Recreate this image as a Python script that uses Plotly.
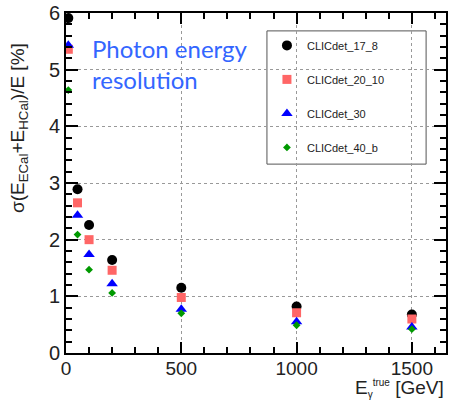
import plotly.graph_objects as go

energies = [10, 50, 100, 200, 500, 1000, 1500]
res_17_8 = [5.91, 2.89, 2.26, 1.64, 1.15, 0.82, 0.68]
res_20_10 = [5.36, 2.65, 2.00, 1.46, 0.98, 0.71, 0.60]
res_30 = [5.43, 2.43, 1.74, 1.22, 0.77, 0.55, 0.46]
res_40_b = [4.64, 2.09, 1.47, 1.06, 0.70, 0.49, 0.42]
err_small = [0.03, 0.03, 0.03, 0.03, 0.03, 0.03, 0.03]

series = [
    ("CLICdet_17_8", res_17_8, "black", "circle", 10),
    ("CLICdet_20_10", res_20_10, "#ff6666", "square", 9),
    ("CLICdet_30", res_30, "#0000ff", "triangle-up", 10),
    ("CLICdet_40_b", res_40_b, "#009900", "diamond", 6),
]

FONT = "Liberation Sans, Arial, Helvetica, sans-serif"

fig = go.Figure()
for i, (name, vals, col, sym, sz) in enumerate(series):
    fig.add_trace(go.Scatter(
        x=energies, y=vals, mode="markers", name=name,
        legendgroup=f"g{i}",
        marker=dict(color=col, symbol=sym, size=sz, line=dict(width=0)),
        error_y=dict(type="data", array=err_small, color=col, thickness=1, width=0),
    ))

axis_common = dict(
    showline=True, linecolor="black", linewidth=2, mirror="allticks",
    ticks="inside", tickcolor="black", tickwidth=2,
    showgrid=True, gridcolor="#999999", griddash="dot", gridwidth=1,
    zeroline=False,
)

fig.update_xaxes(range=[0, 1648], tickvals=[0, 500, 1000, 1500], ticklen=11,
                 tickfont=dict(family=FONT, size=19, color="#222"),
                 ticklabelstandoff=-3,
                 minor=dict(ticks="inside", dtick=100, ticklen=6, tickcolor="black", tickwidth=1.5, showgrid=False),
                 **axis_common)
fig.update_yaxes(range=[0, 6], tickvals=[0, 1, 2, 3, 4, 5, 6], ticklen=12,
                 tickfont=dict(family=FONT, size=20, color="#222"),
                 minor=dict(ticks="inside", dtick=0.2, ticklen=6, tickcolor="black", tickwidth=1.5, showgrid=False),
                 **axis_common)

fig.add_annotation(xref="paper", yref="paper", x=-0.125, y=0.66,
                   text="σ(E<sub>ECal</sub>+E<sub>HCal</sub>)/E [%]", textangle=-90,
                   showarrow=False, font=dict(family=FONT, size=19, color="#222"),
                   xanchor="center", yanchor="middle")
fig.add_annotation(xref="paper", yref="paper", x=1.0, y=-0.143,
                   text="E<sub><span style='font-size:10px'>γ</span></sub><sup><span style='font-size:10px'>true</span></sup> [GeV]",
                   showarrow=False, font=dict(family=FONT, size=19, color="#222"),
                   xanchor="right", yanchor="bottom")
fig.add_annotation(xref="paper", yref="paper", x=(90 - 66) / 382, y=(353 - 30) / 342,
                   text="Photon energy<br>resolution", align="left",
                   showarrow=False, font=dict(family="Lato, sans-serif", size=24, color="#3366ff"),
                   xanchor="left", yanchor="top")

# legend frame
fig.add_shape(type="rect", xref="paper", yref="paper",
              x0=(268 - 66) / 382, x1=(428 - 66) / 382,
              y0=(353 - 163) / 342, y1=(353 - 29) / 342,
              line=dict(color="#555", width=1), fillcolor="white", layer="between")

fig.update_layout(
    width=450, height=402,
    margin=dict(l=66, r=2, t=11, b=49),
    paper_bgcolor="white", plot_bgcolor="white",
    showlegend=True,
    legend=dict(
        x=(268 - 66) / 382, y=(353 - 29) / 342, xanchor="left", yanchor="top",
        bgcolor="rgba(0,0,0,0)", borderwidth=0,
        font=dict(family=FONT, size=11, color="#222"),
        tracegroupgap=15, itemwidth=30,
    ),
)

fig.write_html("out.html")
